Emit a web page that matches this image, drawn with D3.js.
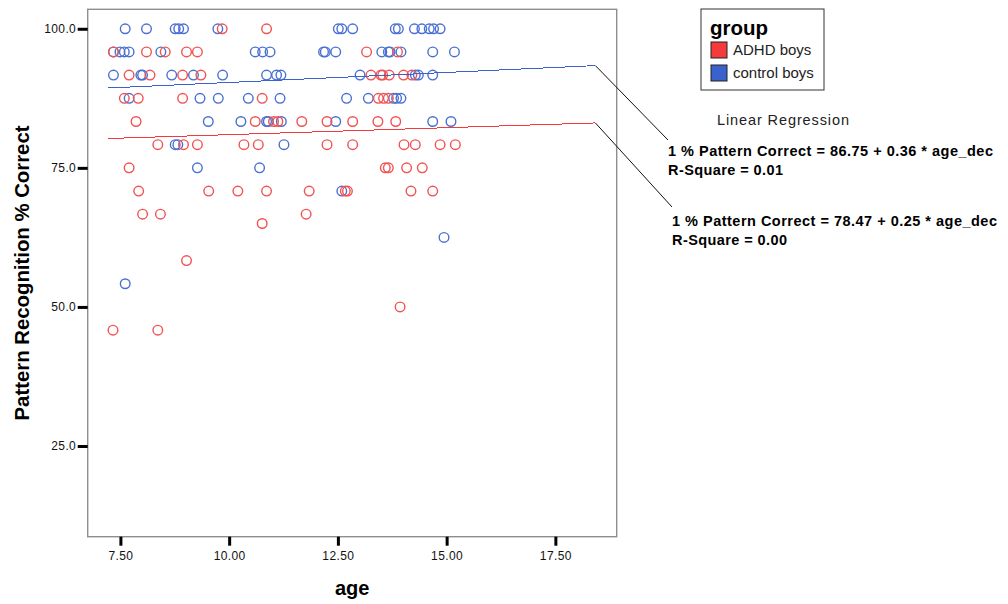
<!DOCTYPE html>
<html>
<head>
<meta charset="utf-8">
<script src="https://cdn.jsdelivr.net/npm/d3@7"></script>
<style>
  body { margin: 0; background: #fff; }
  text { font-family: Arial, "Liberation Sans", sans-serif; }
</style>
</head>
<body>
<div id="chart"></div>
<script>
// ADHD boys (red)
const adhdAge = [9.84, 10.86,
    7.34, 8.10, 8.53, 9.02, 9.27, 13.16, 13.87,
    7.70, 8.18, 8.93, 9.35, 13.26, 13.49, 13.53, 13.68, 14.01, 14.20,
    7.59, 7.91, 8.93, 10.76, 13.43, 13.55, 13.66,
    7.86, 10.60, 11.02, 11.12, 11.67, 12.25, 12.84, 13.42, 13.83,
    8.36, 8.95, 9.27, 10.34, 10.67, 12.25, 12.84, 14.02, 14.28, 14.85, 15.20,
    7.70, 13.59, 13.66, 14.08, 14.44,
    7.92, 9.53, 10.20, 10.86, 11.84, 12.67, 12.72, 14.18, 14.68,
    8.01, 8.42, 11.77,
    10.76, 9.02, 13.93, 7.33, 8.36]
const adhdPct = [100, 100,
    95.83, 95.83, 95.83, 95.83, 95.83, 95.83, 95.83,
    91.67, 91.67, 91.67, 91.67, 91.67, 91.67, 91.67, 91.67, 91.67, 91.67,
    87.5, 87.5, 87.5, 87.5, 87.5, 87.5, 87.5,
    83.33, 83.33, 83.33, 83.33, 83.33, 83.33, 83.33, 83.33, 83.33,
    79.17, 79.17, 79.17, 79.17, 79.17, 79.17, 79.17, 79.17, 79.17, 79.17, 79.17,
    75, 75, 75, 75, 75,
    70.83, 70.83, 70.83, 70.83, 70.83, 70.83, 70.83, 70.83, 70.83,
    66.67, 66.67, 66.67,
    65, 58.33, 50, 45.83, 45.83]

// control boys (blue)
const ctrlAge = [7.61, 8.10, 8.76, 8.84, 8.95, 9.74, 12.51, 12.59, 12.84, 13.82, 13.89, 14.26, 14.43, 14.60, 14.70, 14.85,
    7.34, 7.49, 7.59, 7.70, 8.43, 10.60, 10.77, 10.94, 12.17, 12.21, 12.45, 13.51, 13.66, 13.70, 13.95, 14.68, 15.18,
    7.34, 7.97, 8.01, 8.68, 9.18, 9.85, 10.86, 11.09, 11.19, 13.01, 14.28, 14.35, 14.68,
    7.70, 9.33, 9.75, 10.44, 11.17, 12.70, 13.20, 13.78, 13.85, 13.95,
    9.52, 10.27, 10.86, 10.90, 11.20, 12.45, 14.68, 15.10,
    8.76, 8.82, 11.26,
    9.27, 10.70,
    12.59, 14.94, 7.61]
const ctrlPct = [100, 100, 100, 100, 100, 100, 100, 100, 100, 100, 100, 100, 100, 100, 100, 100,
    95.83, 95.83, 95.83, 95.83, 95.83, 95.83, 95.83, 95.83, 95.83, 95.83, 95.83, 95.83, 95.83, 95.83, 95.83, 95.83, 95.83,
    91.67, 91.67, 91.67, 91.67, 91.67, 91.67, 91.67, 91.67, 91.67, 91.67, 91.67, 91.67, 91.67,
    87.5, 87.5, 87.5, 87.5, 87.5, 87.5, 87.5, 87.5, 87.5, 87.5,
    83.33, 83.33, 83.33, 83.33, 83.33, 83.33, 83.33, 83.33,
    79.17, 79.17, 79.17,
    75, 75,
    70.83, 62.5, 54.17]

// regression fits (ADHD, control)
const groupNames = ["ADHD boys", "control boys"]
const groupColors = ["#f43a3a", "#3a62cc"]
const pointColors = ["#f25252", "#4a70d2"]
const regIntercept = [78.47, 86.75]
const regSlope = [0.25, 0.36]
const regRSquare = ["0.00", "0.01"]
const regAgeRange = [7.21, 18.42]

const xTicks = [7.5, 10, 12.5, 15, 17.5]
const yTicks = [25, 50, 75, 100]

const svg = d3.select("#chart")
    .append("svg")
    .attr("width", 1008)
    .attr("height", 604)

// plot frame
const x = d3.scaleLinear().domain([6.748, 18.91]).range([87.7, 616.7])
const y = d3.scaleLinear().domain([8.7, 103.5]).range([536.7, 9.3])

svg.append("rect")
    .attr("x", x.range()[0])
    .attr("y", y.range()[1])
    .attr("width", x.range()[1] - x.range()[0])
    .attr("height", y.range()[0] - y.range()[1])
    .attr("fill", "none")
    .attr("stroke", "#8e8e8e")
    .attr("stroke-width", 1.4)

// axes
const yAxis = svg.append("g")
    .attr("transform", `translate(${x.range()[0]},0)`)
    .call(d3.axisLeft(y).tickValues(yTicks).tickFormat(d3.format(".1f")).tickSize(10).tickPadding(1.5))
yAxis.select(".domain").remove()

const xAxis = svg.append("g")
    .attr("transform", `translate(0,${y.range()[0]})`)
    .call(d3.axisBottom(x).tickValues(xTicks).tickFormat(d3.format(".2f")).tickSize(9).tickPadding(6))
xAxis.select(".domain").remove()

svg.selectAll(".tick line").attr("stroke", "#000").attr("stroke-width", 3)
svg.selectAll(".tick text")
    .attr("fill", "#111")
    .style("font-size", "12px")
    .style("font-family", "Arial, 'Liberation Sans', sans-serif")
    .attr("letter-spacing", "0.4")

// axis titles
svg.append("text")
    .attr("x", (x.range()[0] + x.range()[1]) / 2)
    .attr("y", 595)
    .attr("text-anchor", "middle")
    .style("font-size", "20px")
    .style("font-weight", "bold")
    .text("age")

svg.append("text")
    .attr("transform", `translate(29,${(y.range()[0] + y.range()[1]) / 2}) rotate(-90)`)
    .attr("text-anchor", "middle")
    .attr("textLength", 295)
    .attr("lengthAdjust", "spacingAndGlyphs")
    .style("font-size", "20px")
    .style("font-weight", "bold")
    .text("Pattern Recognition % Correct")

// points
const ctrlPts = ctrlAge.map((a, i) => ({age: a, pct: ctrlPct[i]}))
const adhdPts = adhdAge.map((a, i) => ({age: a, pct: adhdPct[i]}))

svg.append("g").selectAll("circle")
    .data(ctrlPts)
    .enter().append("circle")
    .attr("cx", d => x(d.age))
    .attr("cy", d => y(d.pct))
    .attr("r", 4.8)
    .attr("fill", "none")
    .attr("stroke", pointColors[1])
    .attr("stroke-width", 1.4)

svg.append("g").selectAll("circle")
    .data(adhdPts)
    .enter().append("circle")
    .attr("cx", d => x(d.age))
    .attr("cy", d => y(d.pct))
    .attr("r", 4.8)
    .attr("fill", "none")
    .attr("stroke", pointColors[0])
    .attr("stroke-width", 1.4)

// regression lines
const line = d3.line().x(d => x(d[0])).y(d => y(d[1]))
const regEnds = []
for (let g = 0; g < 2; g++) {
    const pts = regAgeRange.map(a => [a, regIntercept[g] + regSlope[g] * a])
    regEnds.push(pts[1])
    svg.append("path")
        .attr("d", line(pts))
        .attr("fill", "none")
        .attr("stroke", groupColors[g])
        .attr("stroke-width", 1)
        .attr("shape-rendering", "crispEdges")
}

// annotation labels (control first, ADHD below)
const labelPos = [{g: 1, x: 668, y: 140, tx: 668, ty: 156}, {g: 0, x: 672, y: 207, tx: 672, ty: 226}]
labelPos.forEach(p => {
    const e = regEnds[p.g]
    svg.append("line")
        .attr("x1", x(e[0])).attr("y1", y(e[1]))
        .attr("x2", p.x).attr("y2", p.y)
        .attr("stroke", "#111")
        .attr("stroke-width", 1)
    svg.append("text")
        .attr("x", p.tx).attr("y", p.ty)
        .attr("textLength", 325)
        .attr("lengthAdjust", "spacing")
        .style("font-size", "14.5px")
        .style("font-weight", "bold")
        .text(`1 % Pattern Correct = ${regIntercept[p.g].toFixed(2)} + ${regSlope[p.g].toFixed(2)} * age_dec`)
    svg.append("text")
        .attr("x", p.tx).attr("y", p.ty + 19)
        .attr("textLength", 115)
        .attr("lengthAdjust", "spacing")
        .style("font-size", "14.5px")
        .style("font-weight", "bold")
        .text(`R-Square = ${regRSquare[p.g]}`)
})

svg.append("text")
    .attr("x", 717).attr("y", 125)
    .attr("textLength", 132)
    .attr("lengthAdjust", "spacing")
    .style("font-size", "14.5px")
    .attr("fill", "#222")
    .text("Linear Regression")

// legend
const legend = svg.append("g")
legend.append("rect")
    .attr("x", 701).attr("y", 9)
    .attr("width", 123).attr("height", 81)
    .attr("fill", "#fff")
    .attr("stroke", "#333")
    .attr("stroke-width", 1)
legend.append("text")
    .attr("x", 710).attr("y", 35)
    .style("font-size", "20.5px")
    .style("font-weight", "bold")
    .text("group")
legend.selectAll("rect.sw")
    .data(groupNames)
    .enter().append("rect")
    .attr("class", "sw")
    .attr("x", 711)
    .attr("y", (d, i) => 42 + i * 23)
    .attr("width", 16).attr("height", 16)
    .attr("fill", (d, i) => groupColors[i])
    .attr("stroke", "#222")
    .attr("stroke-width", 1)
legend.selectAll("text.lab")
    .data(groupNames)
    .enter().append("text")
    .attr("class", "lab")
    .attr("x", 733)
    .attr("y", (d, i) => 55 + i * 23)
    .style("font-size", "15px")
    .attr("fill", "#222")
    .text(d => d)
</script>
</body>
</html>
